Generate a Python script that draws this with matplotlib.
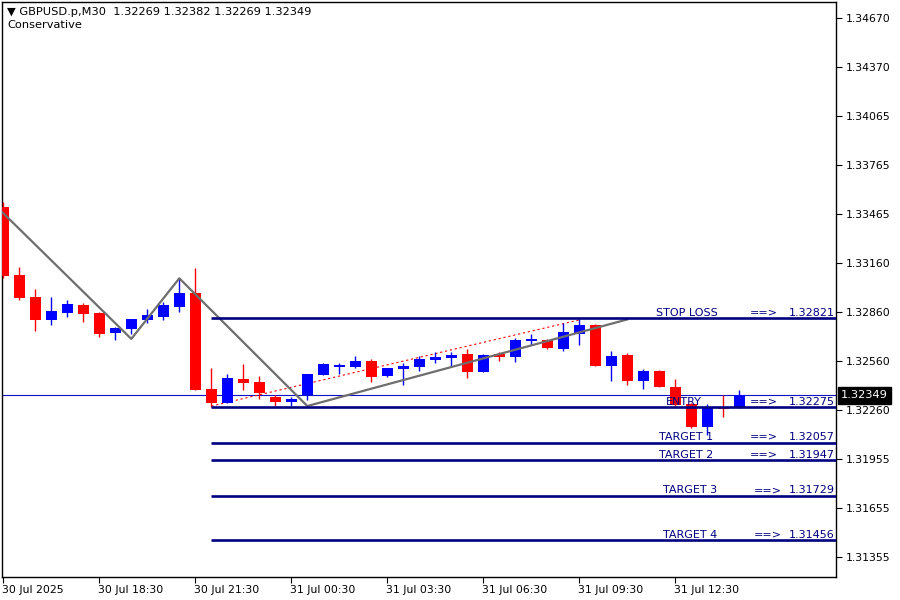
import numpy as np
from matplotlib import pyplot as plt
from matplotlib import transforms

# GBPUSD.p M30 candles (30 Jul 15:30 -> 31 Jul 14:30)
opens = [1.33507, 1.33088, 1.32953, 1.32813, 1.32856, 1.32904, 1.32855, 1.32733,
         1.32758, 1.32813, 1.32832, 1.32893, 1.32978, 1.32387, 1.32303, 1.32448,
         1.32430, 1.32338, 1.32309, 1.32348, 1.32475, 1.32524, 1.32524, 1.32559,
         1.32469, 1.32510, 1.32522, 1.32565, 1.32578, 1.32602, 1.32492, 1.32602,
         1.32584, 1.32682, 1.32688, 1.32633, 1.32725, 1.32783, 1.32530, 1.32596,
         1.32438, 1.32498, 1.32401, 1.32293, 1.32155, 1.32270, 1.32269]
highs = [1.33540, 1.33138, 1.33002, 1.32953, 1.32935, 1.32916, 1.32861, 1.32768,
         1.32818, 1.32879, 1.32922, 1.33064, 1.33132, 1.32516, 1.32479, 1.32541,
         1.32467, 1.32352, 1.32340, 1.32479, 1.32547, 1.32547, 1.32590, 1.32572,
         1.32516, 1.32547, 1.32590, 1.32615, 1.32615, 1.32633, 1.32602, 1.32615,
         1.32701, 1.32725, 1.32695, 1.32791, 1.32816, 1.32787, 1.32621, 1.32608,
         1.32510, 1.32504, 1.32448, 1.32299, 1.32293, 1.32348, 1.32382]
lows = [1.33068, 1.32936, 1.32746, 1.32783, 1.32832, 1.32801, 1.32709, 1.32690,
        1.32727, 1.32795, 1.32813, 1.32863, 1.32381, 1.32278, 1.32301, 1.32383,
        1.32327, 1.32284, 1.32284, 1.32321, 1.32475, 1.32481, 1.32518, 1.32432,
        1.32463, 1.32413, 1.32498, 1.32547, 1.32522, 1.32455, 1.32492, 1.32559,
        1.32553, 1.32658, 1.32633, 1.32623, 1.32660, 1.32530, 1.32438, 1.32413,
        1.32389, 1.32401, 1.32280, 1.32147, 1.32106, 1.32216, 1.32269]
closes = [1.33084, 1.32949, 1.32813, 1.32867, 1.32910, 1.32850, 1.32727, 1.32760,
          1.32818, 1.32842, 1.32904, 1.32978, 1.32383, 1.32303, 1.32455, 1.32426,
          1.32364, 1.32309, 1.32325, 1.32479, 1.32541, 1.32535, 1.32559, 1.32463,
          1.32516, 1.32528, 1.32572, 1.32584, 1.32596, 1.32492, 1.32596, 1.32584,
          1.32688, 1.32695, 1.32639, 1.32738, 1.32781, 1.32530, 1.32590, 1.32438,
          1.32498, 1.32401, 1.32287, 1.32153, 1.32278, 1.32264, 1.32349]

# zigzag and channel
zz_idx = [-1, 8, 11, 19, 39]
zz_price = [1.33565, 1.32695, 1.33068, 1.32282, 1.32815]
dash_idx = [13, 36]
dash_price = [1.32282, 1.32812]

# trade levels
level_names = ["STOP LOSS", "ENTRY", "TARGET 1", "TARGET 2", "TARGET 3", "TARGET 4"]
level_values = [1.32821, 1.32275, 1.32057, 1.31947, 1.31729, 1.31456]
level_start = 13
current_price = 1.32349

ytick_labels = ["1.34670", "1.34370", "1.34065", "1.33765", "1.33465", "1.33160",
                "1.32860", "1.32560", "1.32260", "1.31955", "1.31655", "1.31355"]
xtick_idx = [0, 6, 12, 18, 24, 30, 36, 42]
xtick_labels = ["30 Jul 2025", "30 Jul 18:30", "30 Jul 21:30", "31 Jul 00:30",
                "31 Jul 03:30", "31 Jul 06:30", "31 Jul 09:30", "31 Jul 12:30"]

fig = plt.figure(figsize=(9, 6), dpi=100)
ax = fig.add_axes([2/900, 23/600, 834/900, 575/600])

o = np.array(opens); c = np.array(closes)
h = np.array(highs); l = np.array(lows)
x = np.arange(len(o))
cols = np.where(c >= o, "#0000ff", "#ff0000")

ax.vlines(x, l, h, colors=cols, linewidth=1.0, zorder=3)
body = np.maximum(np.abs(c - o), 0.00003)
ax.bar(x, body, bottom=np.minimum(o, c), width=0.69, color=cols, linewidth=0, zorder=4)

ax.plot(zz_idx, zz_price, color="#6e6e6e", linewidth=1.6, zorder=5)
ax.plot(dash_idx, dash_price, color="#ff0000", linewidth=0.8, dashes=(2, 2.5), zorder=2)

ax.axhline(current_price, color="#1010c8", linewidth=0.8, zorder=1)

navy = "#000080"
fs = 8
for name, val in zip(level_names, level_values):
    ax.hlines(val, level_start, 60, color=navy, linewidth=1.9, zorder=6)
    off = 0.00004
    if name == "ENTRY":
        nx, ax_ = 42.5, 47.5
    elif name in ("TARGET 3", "TARGET 4"):
        nx, ax_ = 42.9, 47.8
    else:
        nx, ax_ = 42.7, 47.5
    ax.text(nx, val + off, name, color=navy, fontsize=fs, ha="center", va="bottom", zorder=7)
    ax.text(ax_, val + off, "==>", color=navy, fontsize=fs, ha="center", va="bottom", zorder=7)
    ax.text(51.95, val + off, "%.5f" % val, color=navy, fontsize=fs,
            ha="right", va="bottom", zorder=7)

ax.set_xlim(-0.08, 52.04)
ax.set_ylim(1.31230, 1.34768)

step = (1.34670 - 1.31355) / 11
ax.yaxis.tick_right()
ax.set_yticks([1.34670 - i * step for i in range(12)])
ax.set_yticklabels(ytick_labels, fontsize=7.8)
ax.tick_params(axis="y", direction="out", length=4, width=0.8, pad=3)

ax.set_xticks(xtick_idx)
ax.set_xticklabels(xtick_labels, fontsize=7.8, ha="left")
ax.tick_params(axis="x", direction="out", length=4, width=0.8, pad=2)
for lab in ax.get_xticklabels():
    lab.set_transform(lab.get_transform() + transforms.ScaledTranslation(-1/100, 0, fig.dpi_scale_trans))

for s in ax.spines.values():
    s.set_linewidth(1.0)

# current price box on the axis
trans = transforms.blended_transform_factory(ax.transAxes, ax.transData)
ax.text(1.006, current_price, "1.32349", transform=trans, color="white", fontsize=8.2,
        va="center", ha="left", bbox=dict(boxstyle="square,pad=0.3", fc="black", ec="black"),
        zorder=10, clip_on=False)

fig.text(7/900, 1 - 12/600, "\u25bc GBPUSD.p,M30  1.32269 1.32382 1.32269 1.32349",
         fontsize=8.2, va="center", ha="left")
fig.text(7/900, 1 - 25/600, "Conservative", fontsize=8.2, va="center", ha="left")

fig.savefig("out.png", dpi=100)
